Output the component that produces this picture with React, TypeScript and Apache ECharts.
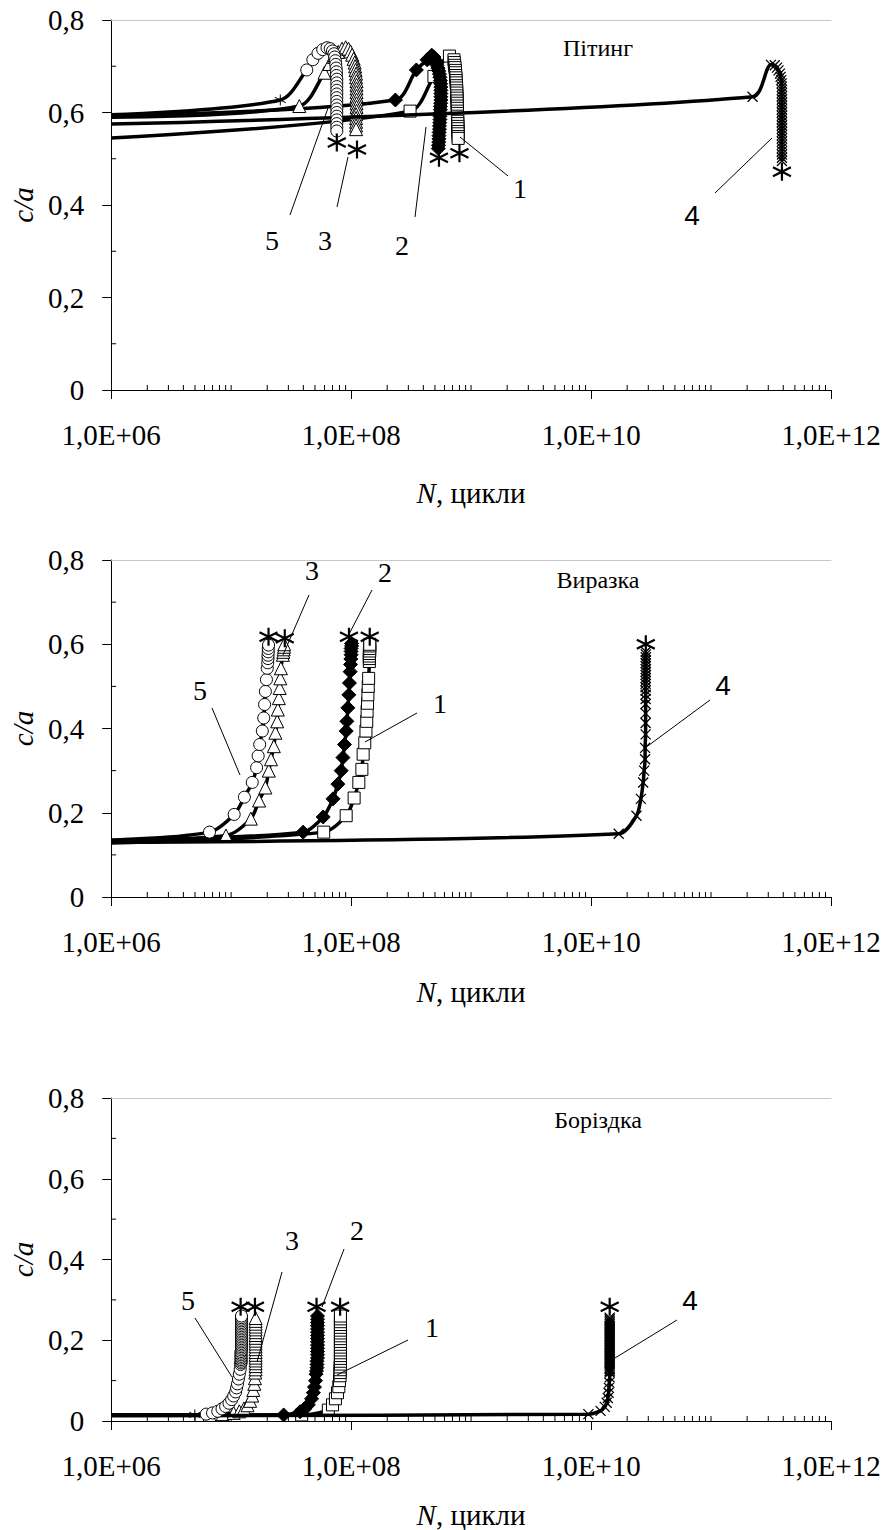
import React, { useEffect, useRef } from 'react';
import * as echarts from 'echarts';

// ---------- texts ----------
const panelTitles = ['Пітинг', 'Виразка', 'Боріздка'];
const yTickLabels = ['0', '0,2', '0,4', '0,6', '0,8'];
const xTickLabels = ['1,0E+06', '1,0E+08', '1,0E+10', '1,0E+12'];
const curveNames = ['1', '2', '3', '4', '5'];

// ---------- data: [N, c/a] ----------
// Panel 1 — Пітинг
const p1c1 = [[1e6, 0.545], [3.1e8, 0.603], [4.9e8, 0.678], [6.6e8, 0.722], [7.2e8, 0.714], [7.25e8, 0.708], [7.3e8, 0.702], [7.35e8, 0.697], [7.4e8, 0.691], [7.42e8, 0.686], [7.45e8, 0.68], [7.48e8, 0.675], [7.5e8, 0.669], [7.52e8, 0.664], [7.55e8, 0.658], [7.57e8, 0.653], [7.6e8, 0.647], [7.6e8, 0.642], [7.62e8, 0.636], [7.63e8, 0.631], [7.65e8, 0.625], [7.66e8, 0.62], [7.67e8, 0.614], [7.68e8, 0.609], [7.7e8, 0.603], [7.7e8, 0.598], [7.72e8, 0.592], [7.73e8, 0.587], [7.74e8, 0.581], [7.75e8, 0.576], [7.76e8, 0.57], [7.77e8, 0.565], [7.78e8, 0.559], [7.79e8, 0.554], [7.8e8, 0.548], [7.8e8, 0.544]];
const p1c2 = [[1e6, 0.593], [2.34e8, 0.627], [3.5e8, 0.692], [4.3e8, 0.714], [4.7e8, 0.724], [4.9e8, 0.72], [5.0e8, 0.714], [5.1e8, 0.708], [5.2e8, 0.702], [5.3e8, 0.696], [5.38e8, 0.69], [5.45e8, 0.683], [5.5e8, 0.676], [5.55e8, 0.669], [5.58e8, 0.662], [5.6e8, 0.655], [5.6e8, 0.648], [5.6e8, 0.641], [5.6e8, 0.634], [5.6e8, 0.627], [5.58e8, 0.62], [5.55e8, 0.613], [5.55e8, 0.606], [5.52e8, 0.599], [5.5e8, 0.592], [5.5e8, 0.585], [5.48e8, 0.578], [5.45e8, 0.571], [5.45e8, 0.564], [5.42e8, 0.557], [5.4e8, 0.55], [5.4e8, 0.543], [5.38e8, 0.536], [5.35e8, 0.529], [5.33e8, 0.522]];
const p1c3 = [[1e6, 0.59], [3.7e7, 0.614], [6.0e7, 0.686], [6.6e7, 0.705], [7.2e7, 0.72], [7.8e7, 0.731], [8.4e7, 0.738], [9.0e7, 0.741], [9.5e7, 0.738], [9.9e7, 0.732], [1.02e8, 0.725], [1.05e8, 0.716], [1.07e8, 0.708], [1.08e8, 0.7], [1.09e8, 0.692], [1.1e8, 0.684], [1.1e8, 0.676], [1.11e8, 0.668], [1.11e8, 0.66], [1.11e8, 0.652], [1.11e8, 0.644], [1.11e8, 0.636], [1.11e8, 0.628], [1.11e8, 0.62], [1.11e8, 0.612], [1.11e8, 0.604], [1.1e8, 0.596], [1.1e8, 0.588], [1.1e8, 0.58], [1.1e8, 0.572], [1.1e8, 0.564]];
const p1c4 = [[1e6, 0.575], [2.22e11, 0.634], [3.16e11, 0.703], [3.4e11, 0.702], [3.55e11, 0.697], [3.65e11, 0.691], [3.75e11, 0.684], [3.8e11, 0.677], [3.85e11, 0.67], [3.88e11, 0.663], [3.9e11, 0.656], [3.9e11, 0.649], [3.9e11, 0.642], [3.9e11, 0.635], [3.9e11, 0.628], [3.9e11, 0.621], [3.9e11, 0.614], [3.9e11, 0.607], [3.9e11, 0.6], [3.9e11, 0.593], [3.9e11, 0.586], [3.9e11, 0.579], [3.9e11, 0.572], [3.9e11, 0.565], [3.9e11, 0.558], [3.9e11, 0.551], [3.9e11, 0.544], [3.9e11, 0.537], [3.9e11, 0.53], [3.9e11, 0.523], [3.9e11, 0.516], [3.9e11, 0.509], [3.9e11, 0.502], [3.9e11, 0.495]];
const p1c5 = [[1e6, 0.595], [2.57e7, 0.627], [4.27e7, 0.692], [4.8e7, 0.714], [5.3e7, 0.728], [5.8e7, 0.736], [6.3e7, 0.74], [6.7e7, 0.738], [7.0e7, 0.733], [7.2e7, 0.727], [7.3e7, 0.72], [7.4e7, 0.712], [7.45e7, 0.704], [7.5e7, 0.696], [7.55e7, 0.688], [7.55e7, 0.68], [7.6e7, 0.672], [7.6e7, 0.664], [7.6e7, 0.656], [7.6e7, 0.648], [7.6e7, 0.64], [7.6e7, 0.632], [7.6e7, 0.624], [7.6e7, 0.616], [7.6e7, 0.608], [7.6e7, 0.6], [7.6e7, 0.592], [7.6e7, 0.584], [7.6e7, 0.576], [7.6e7, 0.568], [7.6e7, 0.56]];
const p1end = [[8.0e8, 0.512], [5.4e8, 0.502], [1.12e8, 0.52], [3.9e11, 0.472], [7.6e7, 0.535]];
const p1star5 = [1];

// Panel 2 — Виразка
const p2c1 = [[1e6, 0.128], [5.91e7, 0.154], [9.1e7, 0.193], [1.06e8, 0.235], [1.16e8, 0.272], [1.23e8, 0.303], [1.26e8, 0.339], [1.3e8, 0.366], [1.33e8, 0.394], [1.35e8, 0.417], [1.36e8, 0.441], [1.37e8, 0.46], [1.38e8, 0.48], [1.39e8, 0.5], [1.4e8, 0.519], [1.42e8, 0.559], [1.42e8, 0.566], [1.42e8, 0.572], [1.42e8, 0.578], [1.43e8, 0.584], [1.43e8, 0.59], [1.43e8, 0.596], [1.43e8, 0.6]];
const p2c2 = [[1e6, 0.133], [3.98e7, 0.154], [5.85e7, 0.19], [7.07e7, 0.233], [7.76e7, 0.268], [8.27e7, 0.3], [8.55e7, 0.331], [8.81e7, 0.362], [9.1e7, 0.394], [9.22e7, 0.417], [9.4e7, 0.449], [9.58e7, 0.48], [9.69e7, 0.508], [9.82e7, 0.535], [9.9e7, 0.552], [9.95e7, 0.565], [1.0e8, 0.575], [1.0e8, 0.583], [1.0e8, 0.59], [1.01e8, 0.596], [1.01e8, 0.602]];
const p2c3 = [[1e6, 0.135], [9.06e6, 0.146], [1.46e7, 0.186], [1.71e7, 0.229], [1.93e7, 0.26], [2.06e7, 0.3], [2.15e7, 0.327], [2.27e7, 0.358], [2.34e7, 0.39], [2.42e7, 0.417], [2.45e7, 0.445], [2.5e7, 0.472], [2.54e7, 0.496], [2.57e7, 0.519], [2.6e7, 0.543], [2.7e7, 0.575], [2.72e7, 0.582], [2.74e7, 0.588], [2.76e7, 0.594], [2.77e7, 0.6]];
const p2c4 = [[1e6, 0.13], [1.7e10, 0.15], [2.39e10, 0.193], [2.6e10, 0.233], [2.72e10, 0.272], [2.77e10, 0.3], [2.82e10, 0.327], [2.82e10, 0.354], [2.85e10, 0.386], [2.85e10, 0.413], [2.85e10, 0.436], [2.85e10, 0.458], [2.85e10, 0.47], [2.85e10, 0.48], [2.85e10, 0.49], [2.85e10, 0.498], [2.85e10, 0.506], [2.85e10, 0.513], [2.86e10, 0.52], [2.86e10, 0.527], [2.86e10, 0.534], [2.86e10, 0.541], [2.86e10, 0.548], [2.86e10, 0.555], [2.86e10, 0.562], [2.86e10, 0.569], [2.86e10, 0.576], [2.86e10, 0.582]];
const p2c5 = [[1e6, 0.135], [6.6e6, 0.154], [1.06e7, 0.196], [1.29e7, 0.237], [1.5e7, 0.272], [1.63e7, 0.307], [1.68e7, 0.335], [1.73e7, 0.362], [1.82e7, 0.394], [1.87e7, 0.425], [1.9e7, 0.457], [1.93e7, 0.488], [1.97e7, 0.516], [2.0e7, 0.543], [2.02e7, 0.556], [2.03e7, 0.566], [2.03e7, 0.574], [2.04e7, 0.582], [2.04e7, 0.59], [2.05e7, 0.598]];
const p2end = [[1.43e8, 0.618], [9.6e7, 0.618], [2.8e7, 0.614], [2.86e10, 0.6], [2.05e7, 0.618]];
const p2star5: number[] = [];

// Panel 3 — Боріздка
const p3c1 = [[1e6, 0.015], [3.87e7, 0.015], [6.46e7, 0.027], [7.0e7, 0.04], [7.4e7, 0.055], [7.7e7, 0.07], [7.9e7, 0.085], [8.0e7, 0.1], [8.1e7, 0.112], [8.1e7, 0.12], [8.1e7, 0.127], [8.1e7, 0.134], [8.15e7, 0.141], [8.15e7, 0.148], [8.15e7, 0.155], [8.15e7, 0.162], [8.15e7, 0.169], [8.15e7, 0.176], [8.15e7, 0.183], [8.15e7, 0.19], [8.15e7, 0.197], [8.15e7, 0.204], [8.15e7, 0.211], [8.15e7, 0.218], [8.15e7, 0.225], [8.15e7, 0.232], [8.15e7, 0.239], [8.15e7, 0.246], [8.15e7, 0.253], [8.15e7, 0.26]];
const p3c2 = [[1e6, 0.015], [2.74e7, 0.015], [3.76e7, 0.023], [4.1e7, 0.03], [4.4e7, 0.04], [4.68e7, 0.055], [4.85e7, 0.07], [4.95e7, 0.084], [5.05e7, 0.1], [5.1e7, 0.116], [5.15e7, 0.124], [5.2e7, 0.132], [5.2e7, 0.14], [5.2e7, 0.148], [5.25e7, 0.156], [5.25e7, 0.164], [5.25e7, 0.172], [5.25e7, 0.18], [5.25e7, 0.188], [5.25e7, 0.196], [5.25e7, 0.204], [5.25e7, 0.212], [5.25e7, 0.22], [5.25e7, 0.228], [5.25e7, 0.236], [5.25e7, 0.244], [5.25e7, 0.252], [5.25e7, 0.26]];
const p3c3 = [[1e6, 0.015], [6.6e6, 0.015], [8.5e6, 0.017], [1.05e7, 0.02], [1.17e7, 0.024], [1.28e7, 0.031], [1.37e7, 0.039], [1.44e7, 0.05], [1.5e7, 0.063], [1.53e7, 0.077], [1.56e7, 0.092], [1.58e7, 0.106], [1.59e7, 0.12], [1.6e7, 0.128], [1.6e7, 0.136], [1.6e7, 0.143], [1.6e7, 0.15], [1.6e7, 0.157], [1.6e7, 0.164], [1.6e7, 0.171], [1.6e7, 0.178], [1.6e7, 0.185], [1.6e7, 0.192], [1.6e7, 0.199], [1.6e7, 0.206], [1.6e7, 0.213], [1.6e7, 0.22], [1.6e7, 0.227], [1.6e7, 0.234], [1.6e7, 0.241], [1.6e7, 0.248], [1.6e7, 0.255]];
const p3c4 = [[1e6, 0.013], [9.5e9, 0.017], [1.2e10, 0.025], [1.3e10, 0.035], [1.35e10, 0.045], [1.38e10, 0.057], [1.4e10, 0.07], [1.41e10, 0.082], [1.42e10, 0.095], [1.43e10, 0.108], [1.43e10, 0.12], [1.43e10, 0.124], [1.43e10, 0.128], [1.43e10, 0.132], [1.43e10, 0.136], [1.43e10, 0.14], [1.43e10, 0.144], [1.43e10, 0.148], [1.43e10, 0.152], [1.43e10, 0.156], [1.43e10, 0.16], [1.43e10, 0.164], [1.43e10, 0.168], [1.43e10, 0.172], [1.43e10, 0.176], [1.43e10, 0.18], [1.43e10, 0.184], [1.43e10, 0.188], [1.43e10, 0.192], [1.43e10, 0.196], [1.43e10, 0.2], [1.43e10, 0.204], [1.43e10, 0.208], [1.43e10, 0.212], [1.43e10, 0.216], [1.43e10, 0.22], [1.43e10, 0.224], [1.43e10, 0.228], [1.43e10, 0.232], [1.43e10, 0.236], [1.43e10, 0.24], [1.43e10, 0.244], [1.43e10, 0.248], [1.43e10, 0.252], [1.43e10, 0.256]];
const p3c5 = [[1e6, 0.015], [4.98e6, 0.015], [6.2e6, 0.017], [7.0e6, 0.02], [7.74e6, 0.024], [8.4e6, 0.03], [9.0e6, 0.036], [9.6e6, 0.044], [1.01e7, 0.053], [1.05e7, 0.062], [1.09e7, 0.072], [1.11e7, 0.082], [1.13e7, 0.092], [1.15e7, 0.104], [1.17e7, 0.116], [1.19e7, 0.128], [1.2e7, 0.14], [1.21e7, 0.144], [1.21e7, 0.148], [1.21e7, 0.152], [1.21e7, 0.156], [1.21e7, 0.16], [1.21e7, 0.164], [1.21e7, 0.168], [1.21e7, 0.172], [1.22e7, 0.176], [1.22e7, 0.18], [1.22e7, 0.184], [1.22e7, 0.188], [1.22e7, 0.192], [1.22e7, 0.196], [1.22e7, 0.2], [1.22e7, 0.204], [1.22e7, 0.208], [1.22e7, 0.212], [1.22e7, 0.216], [1.22e7, 0.22], [1.22e7, 0.224], [1.22e7, 0.228], [1.22e7, 0.232], [1.22e7, 0.236], [1.22e7, 0.24], [1.22e7, 0.244], [1.22e7, 0.248], [1.22e7, 0.252], [1.22e7, 0.256], [1.22e7, 0.26]];
const p3end = [[8.1e7, 0.283], [5.15e7, 0.283], [1.58e7, 0.283], [1.43e10, 0.283], [1.2e7, 0.283]];
const p3star5 = [1];

// ---------- styling / layout ----------
const FONT = 'Liberation Serif';
const SANS = 'Liberation Sans';
const ASTERISK = 'path://M0,-10L0,10M-8.66,-5L8.66,5M-8.66,5L8.66,-5';
const CROSS = 'path://M-5,-5L5,5M-5,5L5,-5';

const panelsLayout = [
  { top: 20, height: 370, nameGap: 88 },
  { top: 560, height: 337, nameGap: 80 },
  { top: 1098, height: 334, nameGap: 79 },
];
const GRID_LEFT = 102;
const GRID_WIDTH = 729;

const panelData = [
  { curves: [p1c1, p1c2, p1c3, p1c4, p1c5], ends: p1end, star5: p1star5 },
  { curves: [p2c1, p2c2, p2c3, p2c4, p2c5], ends: p2end, star5: p2star5 },
  { curves: [p3c1, p3c2, p3c3, p3c4, p3c5], ends: p3end, star5: p3star5 },
];

// annotation placement (pixels): [label, textX, textY, lineX1, lineY1, lineX2, lineY2]
const annotations: (string | number)[][][] = [
  [
    ['5', 272, 240, 290, 215, 328, 108],
    ['3', 325, 240, 337, 207, 348, 157],
    ['2', 402, 245, 415, 217, 426, 127],
    ['1', 520, 188, 508, 176, 460, 137],
    ['4', 692, 215, 715, 193, 772, 138],
  ],
  [
    ['5', 200, 690, 212, 708, 240, 775],
    ['3', 312, 570, 309, 595, 283, 655],
    ['2', 385, 572, 372, 590, 347, 638],
    ['1', 440, 703, 417, 713, 365, 742],
    ['4', 723, 685, 710, 700, 645, 748],
  ],
  [
    ['5', 188, 1300, 195, 1318, 232, 1377],
    ['3', 292, 1240, 282, 1272, 257, 1362],
    ['2', 357, 1230, 344, 1249, 322, 1307],
    ['1', 432, 1327, 408, 1340, 337, 1375],
    ['4', 690, 1300, 677, 1320, 615, 1358],
  ],
];
const titlePos = [[598, 48], [598, 580], [598, 1120]];

const curveStyles = [
  { symbol: 'rect', size: 12, fill: '#fff' },
  { symbol: 'diamond', size: 14, fill: '#000' },
  { symbol: 'triangle', size: 13, fill: '#fff' },
  { symbol: CROSS, size: 10, fill: 'none' },
  { symbol: 'circle', size: 12, fill: '#fff' },
];

const serif = { fontFamily: FONT, fontSize: 29, color: '#000', fontStyle: 'normal', fontWeight: 'normal' };
const serifItalic = { ...serif, fontStyle: 'italic' };

function buildOption() {
  const grid: any[] = [];
  const xAxis: any[] = [];
  const yAxis: any[] = [];
  const series: any[] = [];
  const graphic: any[] = [];

  const minorX: number[][] = [];
  for (let d = 6; d < 12; d++) {
    for (let k = 1; k <= 9; k++) {
      if (k === 1 && d % 2 === 0) continue;
      minorX.push([k * Math.pow(10, d), 0, 0]);
    }
  }
  const minorY = [0.1, 0.3, 0.5, 0.7].map((v) => [1e6, v, 1]);

  panelsLayout.forEach((pl, p) => {
    grid.push({ left: GRID_LEFT, width: GRID_WIDTH, top: pl.top, height: pl.height, containLabel: false });
    xAxis.push({
      type: 'log',
      logBase: 100,
      min: 1e6,
      max: 1e12,
      gridIndex: p,
      axisLine: { show: true, lineStyle: { color: '#000', width: 1 } },
      axisTick: { show: true, inside: false, length: 9, lineStyle: { color: '#000', width: 1 } },
      axisLabel: {
        show: true,
        margin: 30,
        ...serif,
        rich: { s: serif },
        formatter: (v: number) => {
          const e = Math.round(Math.log10(v));
          const lbl = xTickLabels.find((t) => t.endsWith('+' + String(e).padStart(2, '0')));
          return lbl ? '{s|' + lbl + '}' : '';
        },
      },
      splitLine: { show: false },
      minorTick: { show: false },
      name: '{i|N}{s|, цикли}',
      nameLocation: 'middle',
      nameGap: pl.nameGap,
      nameTextStyle: { ...serif, rich: { i: serifItalic, s: serif } },
    });
    yAxis.push({
      type: 'value',
      min: 0,
      max: 0.8,
      interval: 0.2,
      gridIndex: p,
      axisLine: { show: true, lineStyle: { color: '#000', width: 1 } },
      axisTick: { show: true, inside: false, length: 9, lineStyle: { color: '#000', width: 1 } },
      axisLabel: {
        margin: 27,
        ...serif,
        rich: { s: serif },
        formatter: (v: number) => '{s|' + (yTickLabels[Math.round(v / 0.2)] ?? '') + '}',
      },
      splitLine: { show: false },
      name: '{i|c/a}',
      nameLocation: 'middle',
      nameGap: 74,
      nameRotate: 90,
      nameTextStyle: { ...serifItalic, rich: { i: serifItalic } },
    });
  });
  // top border axes
  panelsLayout.forEach((_pl, p) => {
    xAxis.push({
      type: 'value',
      gridIndex: p,
      position: 'top',
      min: 0,
      max: 1,
      axisLine: { show: true, lineStyle: { color: '#c8c8c8', width: 1 } },
      axisTick: { show: false },
      axisLabel: { show: false },
      splitLine: { show: false },
    });
  });

  panelData.forEach((pd, p) => {
    // minor ticks
    series.push({
      type: 'custom',
      xAxisIndex: p,
      yAxisIndex: p,
      silent: true,
      clip: false,
      z: 1,
      data: [...minorX, ...minorY],
      encode: { x: 0, y: 1 },
      renderItem: (params: any, api: any) => {
        const pt = api.coord([api.value(0), api.value(1)]);
        const o = api.value(2);
        return {
          type: 'line',
          shape: o === 0
            ? { x1: pt[0], y1: pt[1], x2: pt[0], y2: pt[1] - 5 }
            : { x1: pt[0], y1: pt[1], x2: pt[0] + 5, y2: pt[1] },
          style: { stroke: '#000', lineWidth: 1 },
        };
      },
    });
    pd.curves.forEach((c, ci) => {
      const st = curveStyles[ci];
      series.push({
        type: 'line',
        name: curveNames[ci],
        xAxisIndex: p,
        yAxisIndex: p,
        smooth: 0.3,
        showAllSymbol: true,
        symbol: st.symbol,
        symbolSize: st.size,
        z: 3 + ci,
        lineStyle: { color: '#000', width: 3.5 },
        itemStyle: { color: st.fill, borderColor: '#000', borderWidth: ci === 3 ? 1.3 : 1, opacity: 1 },
        data: c.map((d, i) => {
          if (i === 0) return { value: d, symbol: 'none' };
          if (ci === 4 && pd.star5.includes(i)) return { value: d, symbol: ASTERISK, symbolSize: 11 };
          return d;
        }),
      });
    });
    series.push({
      type: 'scatter',
      xAxisIndex: p,
      yAxisIndex: p,
      symbol: ASTERISK,
      symbolSize: 18,
      z: 10,
      itemStyle: { color: 'none', borderColor: '#000', borderWidth: 2.2, opacity: 1 },
      data: pd.ends,
    });

    // annotations
    annotations[p].forEach((a) => {
      const [lbl, tx, ty, x1, y1, x2, y2] = a as [string, number, number, number, number, number, number];
      graphic.push({
        type: 'line',
        shape: { x1, y1, x2, y2 },
        style: { stroke: '#000', lineWidth: 1 },
        z: 20,
      });
      graphic.push({
        type: 'text',
        x: tx,
        y: ty,
        z: 20,
        style: {
          text: lbl,
          fill: '#000',
          fontFamily: lbl === '4' ? SANS : FONT,
          fontSize: 28,
          align: 'center',
          verticalAlign: 'middle',
        },
      });
    });
    graphic.push({
      type: 'text',
      x: titlePos[p][0],
      y: titlePos[p][1],
      z: 20,
      style: { text: panelTitles[p], fill: '#000', fontFamily: FONT, fontSize: 24, align: 'center', verticalAlign: 'middle' },
    });
  });

  return {
    animation: false,
    backgroundColor: '#fff',
    textStyle: { fontFamily: FONT, color: '#000' },
    grid,
    xAxis,
    yAxis,
    series,
    graphic,
  };
}

export default function App() {
  const ref = useRef<HTMLDivElement>(null);
  useEffect(() => {
    if (!ref.current) return;
    const chart = echarts.init(ref.current, undefined, { renderer: 'svg' });
    chart.setOption(buildOption() as any);
    return () => chart.dispose();
  }, []);
  return (
    <div
      ref={ref}
      style={{ position: 'absolute', left: 0, top: 0, width: 886, height: 1530, background: '#fff' }}
    />
  );
}
